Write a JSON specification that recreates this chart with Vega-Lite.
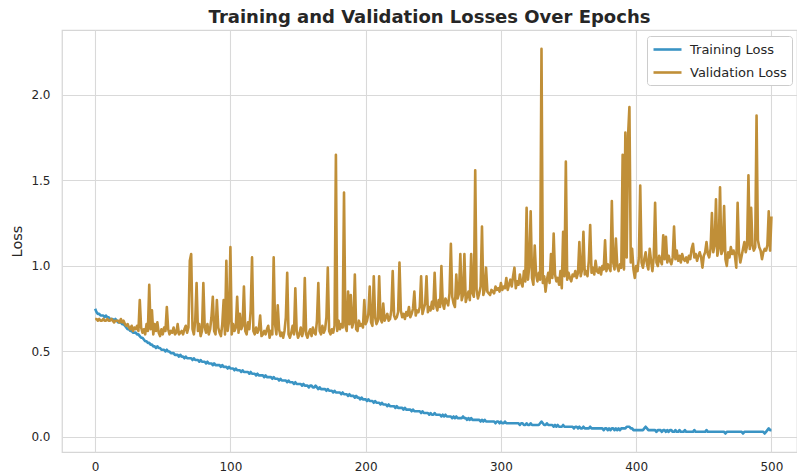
{
"$schema": "https://vega.github.io/schema/vega-lite/v6.json",
"width": 735,
"height": 422,
"autosize": {"type": "none"},
"padding": {"left": 62, "top": 30, "right": 0, "bottom": 22},
"background": "white",
"title": {"text": "Training and Validation Losses Over Epochs", "fontSize": 18, "font": "DejaVu Sans", "fontWeight": "bold", "color": "#262626", "anchor": "middle", "baseline": "alphabetic", "offset": 7, "dy": 18},
"config": {
  "view": {"stroke": "#d6d6d6", "strokeWidth": 1.25},
  "axis": {"domain": false, "ticks": false, "grid": true, "gridColor": "#d9d9d9", "gridWidth": 1.1, "labelFont": "DejaVu Sans", "labelFontSize": 12, "labelColor": "#262626", "labelPadding": 12, "titleFont": "DejaVu Sans", "titleFontSize": 14.5, "titleFontWeight": "normal", "titleColor": "#262626"},
  "legend": {"orient": "none", "legendX": 585, "legendY": 6, "fillColor": "white", "strokeColor": "#cccccc", "cornerRadius": 3, "padding": 5, "symbolType": "M-2,0H2", "symbolSize": 196, "symbolOffset": 7, "symbolStrokeWidth": 2.6, "labelFont": "DejaVu Sans", "labelFontSize": 13, "labelColor": "#262626", "labelOffset": 14, "rowPadding": 7, "title": null}
},
"data": {"values": [
{"e":0,"t":0.75,"v":0.69},{"e":1,"t":0.73,"v":0.69},{"e":2,"t":0.72,"v":0.68},{"e":3,"t":0.72,"v":0.69},{"e":4,"t":0.71,"v":0.68},{"e":5,"t":0.71,"v":0.68},{"e":6,"t":0.71,"v":0.69},{"e":7,"t":0.70,"v":0.68},{"e":8,"t":0.71,"v":0.68},{"e":9,"t":0.70,"v":0.69},
{"e":10,"t":0.70,"v":0.68},{"e":11,"t":0.69,"v":0.68},{"e":12,"t":0.69,"v":0.69},{"e":13,"t":0.69,"v":0.68},{"e":14,"t":0.68,"v":0.67},{"e":15,"t":0.69,"v":0.68},{"e":16,"t":0.68,"v":0.68},{"e":17,"t":0.67,"v":0.68},{"e":18,"t":0.67,"v":0.67},{"e":19,"t":0.67,"v":0.69},
{"e":20,"t":0.66,"v":0.67},{"e":21,"t":0.66,"v":0.68},{"e":22,"t":0.65,"v":0.66},{"e":23,"t":0.64,"v":0.65},{"e":24,"t":0.63,"v":0.66},{"e":25,"t":0.63,"v":0.64},{"e":26,"t":0.62,"v":0.63},{"e":27,"t":0.62,"v":0.65},{"e":28,"t":0.61,"v":0.62},{"e":29,"t":0.61,"v":0.64},
{"e":30,"t":0.61,"v":0.63},{"e":31,"t":0.60,"v":0.65},{"e":32,"t":0.60,"v":0.62},{"e":33,"t":0.59,"v":0.80},{"e":34,"t":0.58,"v":0.64},{"e":35,"t":0.58,"v":0.61},{"e":36,"t":0.57,"v":0.63},{"e":37,"t":0.56,"v":0.60},{"e":38,"t":0.56,"v":0.66},{"e":39,"t":0.55,"v":0.62},
{"e":40,"t":0.55,"v":0.89},{"e":41,"t":0.54,"v":0.63},{"e":42,"t":0.54,"v":0.74},{"e":43,"t":0.53,"v":0.60},{"e":44,"t":0.53,"v":0.66},{"e":45,"t":0.52,"v":0.62},{"e":46,"t":0.53,"v":0.67},{"e":47,"t":0.52,"v":0.61},{"e":48,"t":0.52,"v":0.59},{"e":49,"t":0.51,"v":0.63},
{"e":50,"t":0.51,"v":0.60},{"e":51,"t":0.51,"v":0.64},{"e":52,"t":0.50,"v":0.62},{"e":53,"t":0.51,"v":0.76},{"e":54,"t":0.50,"v":0.63},{"e":55,"t":0.50,"v":0.60},{"e":56,"t":0.49,"v":0.62},{"e":57,"t":0.49,"v":0.61},{"e":58,"t":0.49,"v":0.64},{"e":59,"t":0.48,"v":0.60},
{"e":60,"t":0.48,"v":0.61},{"e":61,"t":0.48,"v":0.66},{"e":62,"t":0.47,"v":0.60},{"e":63,"t":0.48,"v":0.61},{"e":64,"t":0.47,"v":0.62},{"e":65,"t":0.47,"v":0.60},{"e":66,"t":0.46,"v":0.63},{"e":67,"t":0.47,"v":0.65},{"e":68,"t":0.46,"v":0.61},{"e":69,"t":0.46,"v":0.64},
{"e":70,"t":0.46,"v":1.03},{"e":71,"t":0.46,"v":1.07},{"e":72,"t":0.45,"v":0.63},{"e":73,"t":0.46,"v":0.60},{"e":74,"t":0.45,"v":0.68},{"e":75,"t":0.45,"v":0.90},{"e":76,"t":0.45,"v":0.62},{"e":77,"t":0.44,"v":0.66},{"e":78,"t":0.45,"v":0.59},{"e":79,"t":0.44,"v":0.62},
{"e":80,"t":0.44,"v":0.90},{"e":81,"t":0.44,"v":0.64},{"e":82,"t":0.43,"v":0.61},{"e":83,"t":0.44,"v":0.66},{"e":84,"t":0.43,"v":0.60},{"e":85,"t":0.43,"v":0.63},{"e":86,"t":0.43,"v":0.70},{"e":87,"t":0.42,"v":0.82},{"e":88,"t":0.43,"v":0.62},{"e":89,"t":0.42,"v":0.60},
{"e":90,"t":0.42,"v":0.80},{"e":91,"t":0.42,"v":0.64},{"e":92,"t":0.42,"v":0.61},{"e":93,"t":0.41,"v":0.59},{"e":94,"t":0.42,"v":0.66},{"e":95,"t":0.41,"v":0.80},{"e":96,"t":0.41,"v":0.60},{"e":97,"t":0.41,"v":1.03},{"e":98,"t":0.40,"v":0.62},{"e":99,"t":0.41,"v":0.68},
{"e":100,"t":0.40,"v":1.11},{"e":101,"t":0.40,"v":0.60},{"e":102,"t":0.40,"v":0.66},{"e":103,"t":0.39,"v":0.62},{"e":104,"t":0.40,"v":0.64},{"e":105,"t":0.39,"v":0.82},{"e":106,"t":0.39,"v":0.61},{"e":107,"t":0.39,"v":0.72},{"e":108,"t":0.38,"v":0.63},{"e":109,"t":0.39,"v":0.65},
{"e":110,"t":0.38,"v":0.88},{"e":111,"t":0.38,"v":0.62},{"e":112,"t":0.38,"v":0.60},{"e":113,"t":0.38,"v":0.67},{"e":114,"t":0.37,"v":0.63},{"e":115,"t":0.38,"v":0.74},{"e":116,"t":0.37,"v":1.05},{"e":117,"t":0.37,"v":0.62},{"e":118,"t":0.37,"v":0.60},{"e":119,"t":0.36,"v":0.64},
{"e":120,"t":0.37,"v":0.61},{"e":121,"t":0.36,"v":0.63},{"e":122,"t":0.36,"v":0.71},{"e":123,"t":0.36,"v":0.59},{"e":124,"t":0.36,"v":0.60},{"e":125,"t":0.35,"v":0.62},{"e":126,"t":0.36,"v":0.60},{"e":127,"t":0.35,"v":0.63},{"e":128,"t":0.35,"v":0.65},{"e":129,"t":0.35,"v":0.58},
{"e":130,"t":0.35,"v":0.62},{"e":131,"t":0.34,"v":0.60},{"e":132,"t":0.35,"v":1.05},{"e":133,"t":0.34,"v":0.66},{"e":134,"t":0.34,"v":0.60},{"e":135,"t":0.34,"v":0.77},{"e":136,"t":0.33,"v":0.63},{"e":137,"t":0.34,"v":0.59},{"e":138,"t":0.33,"v":0.61},{"e":139,"t":0.33,"v":0.58},
{"e":140,"t":0.33,"v":0.62},{"e":141,"t":0.33,"v":0.70},{"e":142,"t":0.32,"v":0.96},{"e":143,"t":0.33,"v":0.60},{"e":144,"t":0.32,"v":0.58},{"e":145,"t":0.32,"v":0.61},{"e":146,"t":0.32,"v":0.65},{"e":147,"t":0.31,"v":0.60},{"e":148,"t":0.32,"v":0.87},{"e":149,"t":0.31,"v":0.62},
{"e":150,"t":0.31,"v":0.58},{"e":151,"t":0.31,"v":0.60},{"e":152,"t":0.31,"v":0.64},{"e":153,"t":0.30,"v":0.59},{"e":154,"t":0.31,"v":0.62},{"e":155,"t":0.30,"v":0.93},{"e":156,"t":0.30,"v":0.60},{"e":157,"t":0.30,"v":0.58},{"e":158,"t":0.29,"v":0.61},{"e":159,"t":0.30,"v":0.63},
{"e":160,"t":0.30,"v":0.59},{"e":161,"t":0.29,"v":0.64},{"e":162,"t":0.29,"v":0.61},{"e":163,"t":0.30,"v":0.60},{"e":164,"t":0.29,"v":0.68},{"e":165,"t":0.28,"v":0.90},{"e":166,"t":0.29,"v":0.62},{"e":167,"t":0.28,"v":0.60},{"e":168,"t":0.28,"v":0.65},{"e":169,"t":0.28,"v":0.61},
{"e":170,"t":0.28,"v":0.63},{"e":171,"t":0.27,"v":0.70},{"e":172,"t":0.28,"v":0.99},{"e":173,"t":0.27,"v":0.62},{"e":174,"t":0.27,"v":0.60},{"e":175,"t":0.27,"v":0.63},{"e":176,"t":0.26,"v":0.61},{"e":177,"t":0.27,"v":0.65},{"e":178,"t":0.26,"v":1.65},{"e":179,"t":0.26,"v":0.62},
{"e":180,"t":0.26,"v":0.68},{"e":181,"t":0.26,"v":0.63},{"e":182,"t":0.25,"v":0.66},{"e":183,"t":0.26,"v":0.64},{"e":184,"t":0.25,"v":1.43},{"e":185,"t":0.25,"v":0.65},{"e":186,"t":0.25,"v":0.62},{"e":187,"t":0.24,"v":0.85},{"e":188,"t":0.25,"v":0.66},{"e":189,"t":0.24,"v":0.83},
{"e":190,"t":0.24,"v":0.64},{"e":191,"t":0.24,"v":0.67},{"e":192,"t":0.23,"v":0.95},{"e":193,"t":0.24,"v":0.63},{"e":194,"t":0.23,"v":0.62},{"e":195,"t":0.23,"v":0.68},{"e":196,"t":0.22,"v":0.65},{"e":197,"t":0.23,"v":0.66},{"e":198,"t":0.22,"v":0.64},{"e":199,"t":0.22,"v":0.80},
{"e":200,"t":0.22,"v":0.66},{"e":201,"t":0.21,"v":0.68},{"e":202,"t":0.22,"v":0.72},{"e":203,"t":0.21,"v":0.88},{"e":204,"t":0.21,"v":0.67},{"e":205,"t":0.21,"v":0.65},{"e":206,"t":0.20,"v":0.94},{"e":207,"t":0.21,"v":0.70},{"e":208,"t":0.20,"v":0.66},{"e":209,"t":0.20,"v":0.68},
{"e":210,"t":0.20,"v":0.94},{"e":211,"t":0.19,"v":0.69},{"e":212,"t":0.20,"v":0.67},{"e":213,"t":0.19,"v":0.78},{"e":214,"t":0.19,"v":0.68},{"e":215,"t":0.19,"v":0.70},{"e":216,"t":0.18,"v":0.72},{"e":217,"t":0.19,"v":0.68},{"e":218,"t":0.18,"v":0.69},{"e":219,"t":0.18,"v":0.74},
{"e":220,"t":0.18,"v":0.97},{"e":221,"t":0.18,"v":0.71},{"e":222,"t":0.17,"v":0.69},{"e":223,"t":0.18,"v":0.70},{"e":224,"t":0.17,"v":0.73},{"e":225,"t":0.17,"v":1.02},{"e":226,"t":0.17,"v":0.74},{"e":227,"t":0.17,"v":0.70},{"e":228,"t":0.16,"v":0.72},{"e":229,"t":0.17,"v":0.69},
{"e":230,"t":0.16,"v":0.73},{"e":231,"t":0.16,"v":0.71},{"e":232,"t":0.16,"v":0.76},{"e":233,"t":0.16,"v":0.70},{"e":234,"t":0.15,"v":0.72},{"e":235,"t":0.16,"v":0.75},{"e":236,"t":0.15,"v":0.85},{"e":237,"t":0.15,"v":0.71},{"e":238,"t":0.15,"v":0.74},{"e":239,"t":0.15,"v":0.73},
{"e":240,"t":0.15,"v":0.76},{"e":241,"t":0.14,"v":0.94},{"e":242,"t":0.15,"v":0.72},{"e":243,"t":0.14,"v":0.75},{"e":244,"t":0.14,"v":0.78},{"e":245,"t":0.14,"v":0.94},{"e":246,"t":0.14,"v":0.73},{"e":247,"t":0.13,"v":0.76},{"e":248,"t":0.14,"v":0.74},{"e":249,"t":0.13,"v":0.79},
{"e":250,"t":0.13,"v":0.75},{"e":251,"t":0.14,"v":0.96},{"e":252,"t":0.13,"v":0.77},{"e":253,"t":0.13,"v":0.74},{"e":254,"t":0.13,"v":0.80},{"e":255,"t":0.13,"v":0.76},{"e":256,"t":0.12,"v":1.00},{"e":257,"t":0.13,"v":0.78},{"e":258,"t":0.12,"v":0.75},{"e":259,"t":0.13,"v":0.81},
{"e":260,"t":0.12,"v":0.79},{"e":261,"t":0.12,"v":0.77},{"e":262,"t":0.12,"v":0.84},{"e":263,"t":0.12,"v":1.13},{"e":264,"t":0.11,"v":0.82},{"e":265,"t":0.12,"v":0.78},{"e":266,"t":0.11,"v":0.76},{"e":267,"t":0.12,"v":0.95},{"e":268,"t":0.11,"v":0.81},{"e":269,"t":0.11,"v":0.84},
{"e":270,"t":0.11,"v":1.07},{"e":271,"t":0.11,"v":0.80},{"e":272,"t":0.12,"v":0.83},{"e":273,"t":0.11,"v":1.07},{"e":274,"t":0.11,"v":0.79},{"e":275,"t":0.10,"v":0.82},{"e":276,"t":0.11,"v":0.85},{"e":277,"t":0.10,"v":0.80},{"e":278,"t":0.11,"v":1.07},{"e":279,"t":0.10,"v":0.84},
{"e":280,"t":0.10,"v":0.82},{"e":281,"t":0.10,"v":1.56},{"e":282,"t":0.10,"v":0.86},{"e":283,"t":0.10,"v":0.81},{"e":284,"t":0.10,"v":0.84},{"e":285,"t":0.09,"v":0.88},{"e":286,"t":0.10,"v":1.23},{"e":287,"t":0.09,"v":0.83},{"e":288,"t":0.10,"v":0.86},{"e":289,"t":0.09,"v":0.99},
{"e":290,"t":0.09,"v":0.85},{"e":291,"t":0.09,"v":0.84},{"e":292,"t":0.09,"v":0.83},{"e":293,"t":0.09,"v":0.86},{"e":294,"t":0.09,"v":0.85},{"e":295,"t":0.09,"v":0.84},{"e":296,"t":0.08,"v":0.88},{"e":297,"t":0.09,"v":0.86},{"e":298,"t":0.09,"v":0.87},{"e":299,"t":0.08,"v":0.85},
{"e":300,"t":0.09,"v":0.90},{"e":301,"t":0.08,"v":0.86},{"e":302,"t":0.08,"v":0.88},{"e":303,"t":0.09,"v":0.87},{"e":304,"t":0.08,"v":0.93},{"e":305,"t":0.08,"v":0.86},{"e":306,"t":0.08,"v":0.89},{"e":307,"t":0.08,"v":0.92},{"e":308,"t":0.08,"v":0.88},{"e":309,"t":0.08,"v":0.94},
{"e":310,"t":0.08,"v":0.99},{"e":311,"t":0.08,"v":0.87},{"e":312,"t":0.08,"v":0.91},{"e":313,"t":0.08,"v":0.89},{"e":314,"t":0.07,"v":0.95},{"e":315,"t":0.08,"v":0.90},{"e":316,"t":0.08,"v":0.88},{"e":317,"t":0.07,"v":0.97},{"e":318,"t":0.07,"v":0.91},{"e":319,"t":0.08,"v":1.34},
{"e":320,"t":0.07,"v":0.92},{"e":321,"t":0.07,"v":1.00},{"e":322,"t":0.08,"v":1.32},{"e":323,"t":0.07,"v":0.93},{"e":324,"t":0.07,"v":0.89},{"e":325,"t":0.07,"v":1.12},{"e":326,"t":0.07,"v":0.95},{"e":327,"t":0.07,"v":0.91},{"e":328,"t":0.07,"v":0.96},{"e":329,"t":0.08,"v":0.92},
{"e":330,"t":0.09,"v":2.27},{"e":331,"t":0.08,"v":0.90},{"e":332,"t":0.07,"v":0.94},{"e":333,"t":0.07,"v":0.85},{"e":334,"t":0.08,"v":0.92},{"e":335,"t":0.07,"v":0.96},{"e":336,"t":0.07,"v":0.90},{"e":337,"t":0.07,"v":1.07},{"e":338,"t":0.07,"v":0.93},{"e":339,"t":0.06,"v":1.19},
{"e":340,"t":0.07,"v":0.95},{"e":341,"t":0.06,"v":0.91},{"e":342,"t":0.07,"v":0.93},{"e":343,"t":0.06,"v":0.89},{"e":344,"t":0.06,"v":0.97},{"e":345,"t":0.06,"v":0.87},{"e":346,"t":0.07,"v":1.20},{"e":347,"t":0.06,"v":0.94},{"e":348,"t":0.06,"v":1.61},{"e":349,"t":0.06,"v":0.92},
{"e":350,"t":0.06,"v":0.96},{"e":351,"t":0.06,"v":0.93},{"e":352,"t":0.06,"v":0.91},{"e":353,"t":0.06,"v":0.95},{"e":354,"t":0.05,"v":0.94},{"e":355,"t":0.06,"v":0.97},{"e":356,"t":0.06,"v":0.93},{"e":357,"t":0.05,"v":0.96},{"e":358,"t":0.06,"v":1.14},{"e":359,"t":0.05,"v":0.94},
{"e":360,"t":0.05,"v":0.98},{"e":361,"t":0.06,"v":1.20},{"e":362,"t":0.05,"v":0.95},{"e":363,"t":0.05,"v":0.97},{"e":364,"t":0.05,"v":0.94},{"e":365,"t":0.05,"v":1.03},{"e":366,"t":0.06,"v":1.24},{"e":367,"t":0.05,"v":0.96},{"e":368,"t":0.05,"v":0.99},{"e":369,"t":0.05,"v":0.95},
{"e":370,"t":0.05,"v":1.03},{"e":371,"t":0.05,"v":0.97},{"e":372,"t":0.05,"v":0.96},{"e":373,"t":0.05,"v":0.99},{"e":374,"t":0.05,"v":0.95},{"e":375,"t":0.05,"v":1.00},{"e":376,"t":0.04,"v":0.98},{"e":377,"t":0.05,"v":1.15},{"e":378,"t":0.05,"v":0.97},{"e":379,"t":0.04,"v":1.01},
{"e":380,"t":0.05,"v":0.99},{"e":381,"t":0.04,"v":0.97},{"e":382,"t":0.05,"v":1.38},{"e":383,"t":0.05,"v":1.02},{"e":384,"t":0.04,"v":0.98},{"e":385,"t":0.05,"v":1.16},{"e":386,"t":0.04,"v":1.00},{"e":387,"t":0.05,"v":0.97},{"e":388,"t":0.04,"v":1.01},{"e":389,"t":0.05,"v":0.99},
{"e":390,"t":0.05,"v":1.65},{"e":391,"t":0.05,"v":0.98},{"e":392,"t":0.05,"v":1.78},{"e":393,"t":0.06,"v":1.05},{"e":394,"t":0.06,"v":1.76},{"e":395,"t":0.06,"v":1.93},{"e":396,"t":0.05,"v":1.02},{"e":397,"t":0.05,"v":1.10},{"e":398,"t":0.04,"v":0.98},{"e":399,"t":0.04,"v":0.93},
{"e":400,"t":0.04,"v":1.00},{"e":401,"t":0.04,"v":0.97},{"e":402,"t":0.04,"v":1.05},{"e":403,"t":0.04,"v":1.47},{"e":404,"t":0.04,"v":1.02},{"e":405,"t":0.04,"v":0.99},{"e":406,"t":0.05,"v":1.04},{"e":407,"t":0.06,"v":1.08},{"e":408,"t":0.05,"v":1.01},{"e":409,"t":0.04,"v":0.98},
{"e":410,"t":0.04,"v":1.10},{"e":411,"t":0.04,"v":1.03},{"e":412,"t":0.04,"v":0.97},{"e":413,"t":0.04,"v":1.05},{"e":414,"t":0.04,"v":1.37},{"e":415,"t":0.03,"v":1.02},{"e":416,"t":0.04,"v":1.00},{"e":417,"t":0.04,"v":1.06},{"e":418,"t":0.04,"v":1.03},{"e":419,"t":0.03,"v":1.01},
{"e":420,"t":0.04,"v":1.18},{"e":421,"t":0.04,"v":1.04},{"e":422,"t":0.03,"v":1.17},{"e":423,"t":0.04,"v":1.02},{"e":424,"t":0.03,"v":1.06},{"e":425,"t":0.04,"v":1.03},{"e":426,"t":0.04,"v":1.01},{"e":427,"t":0.03,"v":1.05},{"e":428,"t":0.03,"v":1.23},{"e":429,"t":0.04,"v":1.04},
{"e":430,"t":0.03,"v":1.09},{"e":431,"t":0.03,"v":1.03},{"e":432,"t":0.04,"v":1.06},{"e":433,"t":0.03,"v":1.02},{"e":434,"t":0.03,"v":1.07},{"e":435,"t":0.03,"v":1.04},{"e":436,"t":0.04,"v":1.03},{"e":437,"t":0.03,"v":1.05},{"e":438,"t":0.03,"v":1.02},{"e":439,"t":0.03,"v":1.06},
{"e":440,"t":0.03,"v":1.04},{"e":441,"t":0.03,"v":1.10},{"e":442,"t":0.03,"v":1.13},{"e":443,"t":0.04,"v":1.05},{"e":444,"t":0.03,"v":1.07},{"e":445,"t":0.03,"v":1.03},{"e":446,"t":0.03,"v":1.06},{"e":447,"t":0.03,"v":1.08},{"e":448,"t":0.03,"v":1.05},{"e":449,"t":0.03,"v":0.99},
{"e":450,"t":0.03,"v":1.06},{"e":451,"t":0.03,"v":1.08},{"e":452,"t":0.04,"v":1.14},{"e":453,"t":0.03,"v":1.07},{"e":454,"t":0.03,"v":1.05},{"e":455,"t":0.03,"v":1.10},{"e":456,"t":0.03,"v":1.31},{"e":457,"t":0.03,"v":1.08},{"e":458,"t":0.03,"v":1.12},{"e":459,"t":0.03,"v":1.39},
{"e":460,"t":0.03,"v":1.06},{"e":461,"t":0.03,"v":1.10},{"e":462,"t":0.03,"v":1.46},{"e":463,"t":0.03,"v":1.07},{"e":464,"t":0.03,"v":1.09},{"e":465,"t":0.03,"v":1.35},{"e":466,"t":0.02,"v":1.04},{"e":467,"t":0.03,"v":1.00},{"e":468,"t":0.03,"v":1.08},{"e":469,"t":0.03,"v":1.05},
{"e":470,"t":0.03,"v":1.11},{"e":471,"t":0.03,"v":1.07},{"e":472,"t":0.03,"v":1.09},{"e":473,"t":0.03,"v":1.06},{"e":474,"t":0.03,"v":0.99},{"e":475,"t":0.03,"v":1.37},{"e":476,"t":0.03,"v":1.08},{"e":477,"t":0.03,"v":1.02},{"e":478,"t":0.03,"v":1.06},{"e":479,"t":0.02,"v":1.10},
{"e":480,"t":0.03,"v":1.14},{"e":481,"t":0.03,"v":1.08},{"e":482,"t":0.03,"v":1.12},{"e":483,"t":0.03,"v":1.53},{"e":484,"t":0.03,"v":1.10},{"e":485,"t":0.03,"v":1.34},{"e":486,"t":0.03,"v":1.12},{"e":487,"t":0.03,"v":1.09},{"e":488,"t":0.03,"v":1.11},{"e":489,"t":0.03,"v":1.88},
{"e":490,"t":0.03,"v":1.15},{"e":491,"t":0.03,"v":1.11},{"e":492,"t":0.03,"v":1.09},{"e":493,"t":0.03,"v":1.04},{"e":494,"t":0.03,"v":1.08},{"e":495,"t":0.02,"v":1.10},{"e":496,"t":0.03,"v":1.09},{"e":497,"t":0.04,"v":1.12},{"e":498,"t":0.05,"v":1.32},{"e":499,"t":0.04,"v":1.09},
{"e":500,"t":0.04,"v":1.29}
]},
"encoding": {
  "x": {"field": "e", "type": "quantitative", "scale": {"domain": [-24.5, 518.9], "nice": false, "zero": false}, "axis": {"values": [0, 100, 200, 300, 400, 500], "title": null, "labelPadding": 9}}
},
"layer": [
  {"mark": {"type": "line", "strokeWidth": 2.6, "strokeJoin": "round"},
   "encoding": {
     "y": {"field": "t", "type": "quantitative", "scale": {"domain": [-0.088, 2.38], "nice": false, "zero": false}, "axis": {"values": [0, 0.5, 1, 1.5, 2], "format": ".1f", "title": "Loss", "titlePadding": 6}},
     "color": {"datum": "Training Loss", "type": "nominal", "scale": {"domain": ["Training Loss", "Validation Loss"], "range": ["#3a94c4", "#c08f38"]}}
   }},
  {"mark": {"type": "line", "strokeWidth": 2.6, "strokeJoin": "round"},
   "encoding": {
     "y": {"field": "v", "type": "quantitative", "axis": {"values": [0, 0.5, 1, 1.5, 2], "format": ".1f", "title": "Loss", "titlePadding": 6}},
     "color": {"datum": "Validation Loss", "type": "nominal"}
   }}
]
}
